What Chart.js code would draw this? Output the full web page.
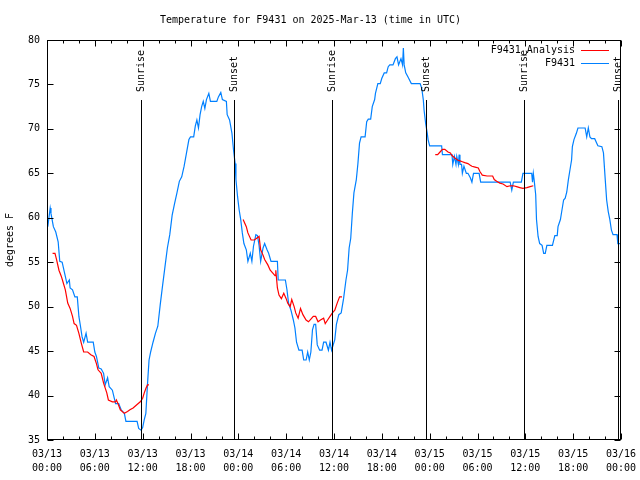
<!DOCTYPE html>
<html>
<head>
<meta charset="utf-8">
<script src="https://cdn.jsdelivr.net/npm/chart.js@4"></script>
<style>body{margin:0;background:#fff}</style>
</head>
<body>
<canvas id="temp" width="640" height="480"></canvas>
<script>
// hours since 03/13 00:00 UTC, station readings in degrees F
const obsHours = [
  0.1,0.4,0.5,0.8,1.1,1.4,1.6,1.9,2.2,2.5,
  2.8,2.9,3.2,3.5,3.8,4.0,4.2,4.4,4.6,4.9,
  5.1,5.8,6.0,6.2,6.5,6.8,7.1,7.3,7.6,7.8,
  8.2,8.6,9.0,9.3,9.7,9.9,11.3,11.5,11.8,12.0,
  12.2,12.4,12.6,12.8,13.0,13.3,13.6,13.9,14.2,14.5,
  14.8,15.1,15.4,15.7,16.0,16.3,16.6,16.9,17.2,17.5,
  17.8,18.0,18.4,18.6,18.8,19.0,19.2,19.4,19.6,19.8,
  20.0,20.3,20.5,21.3,21.5,21.8,22.0,22.5,22.6,22.9,
  23.2,23.4,23.6,23.7,23.9,24.1,24.3,24.5,24.7,25.0,
  25.2,25.5,25.7,25.9,26.2,26.4,26.6,26.8,27.1,27.3,
  27.6,27.8,28.1,28.9,29.0,29.9,30.1,30.3,30.6,30.9,
  31.1,31.3,31.6,32.0,32.2,32.5,32.7,32.9,33.1,33.3,
  33.5,33.7,33.9,34.2,34.5,34.7,35.0,35.3,35.5,35.7,
  35.9,36.1,36.3,36.6,36.9,37.2,37.5,37.7,37.9,38.1,
  38.3,38.5,38.8,39.0,39.2,39.4,39.9,40.1,40.3,40.6,
  40.8,41.1,41.2,41.5,41.8,42.0,42.3,42.6,42.8,43.0,
  43.4,43.7,43.9,44.1,44.4,44.6,44.7,44.8,45.0,45.3,
  45.7,46.8,47.0,47.2,47.3,47.5,47.7,47.8,48.0,49.5,
  49.6,50.8,50.9,51.1,51.3,51.4,51.6,51.7,51.8,52.0,
  52.1,52.3,52.6,52.8,53.1,53.3,53.5,54.2,54.4,58.1,
  58.3,58.5,59.5,59.7,60.8,60.9,61.0,61.1,61.3,61.4,
  61.6,61.8,62.1,62.3,62.5,62.7,63.4,63.7,64.0,64.1,
  64.4,64.6,64.8,65.0,65.2,65.4,65.6,65.8,65.9,66.1,
  66.4,66.6,67.5,67.7,67.9,68.1,68.3,68.7,69.1,69.6,
  69.8,70.0,70.2,70.4,70.6,70.8,71.0,71.5,71.6,72.0
];
const obsTemps = [
  59.0,61.1,60.5,59.0,58.4,57.3,55.1,55.0,53.8,52.6,
  53.0,52.1,51.9,51.1,51.1,48.9,47.8,46.6,46.0,47.0,
  46.0,46.0,44.9,44.4,43.1,43.0,42.5,41.2,42.0,41.0,
  40.6,39.1,39.1,38.4,38.0,37.1,37.1,36.3,36.1,36.4,
  37.3,38.0,41.2,44.0,44.9,46.0,47.0,47.8,50.2,52.4,
  54.5,56.6,58.1,60.3,61.6,62.8,64.1,64.6,65.8,67.3,
  68.8,69.1,69.1,70.3,71.0,70.1,71.6,72.5,73.1,72.3,
  73.3,74.0,73.1,73.1,73.6,74.1,73.3,73.1,71.6,71.0,
  69.5,67.6,66.1,64.3,62.4,60.9,59.8,58.3,57.1,56.4,
  55.1,56.0,55.1,56.8,58.1,58.0,56.9,55.1,56.6,57.1,
  56.4,56.0,55.1,55.1,53.0,53.0,51.9,50.4,49.6,48.5,
  47.6,46.0,45.1,45.1,44.0,44.0,44.9,44.0,44.9,47.4,
  48.0,48.0,45.7,45.1,45.1,46.0,46.0,45.1,46.0,45.1,
  45.7,46.3,48.0,49.1,49.3,50.9,53.0,54.1,56.6,57.7,
  60.5,62.8,64.3,66.1,68.4,69.1,69.1,70.8,71.1,71.1,
  72.5,73.3,74.0,75.1,75.1,75.7,76.3,76.3,77.0,77.2,
  77.2,77.9,78.1,77.2,77.9,77.2,79.1,77.2,76.3,75.8,
  75.1,75.1,74.6,73.3,72.1,70.6,69.5,68.8,68.1,68.1,
  67.1,67.1,66.0,66.9,66.0,66.9,66.0,67.1,66.0,66.0,
  65.0,65.8,65.0,65.0,64.5,64.0,65.0,65.0,64.0,64.0,
  63.1,64.0,64.0,65.0,65.0,64.0,65.0,64.3,62.6,59.8,
  57.9,57.1,56.9,56.0,56.0,56.9,56.9,58.0,58.0,59.0,
  59.8,60.9,62.0,62.2,62.9,64.3,65.4,66.5,68.0,68.8,
  69.5,70.1,70.1,69.1,70.1,69.1,68.9,68.9,68.1,68.0,
  67.3,64.6,62.0,60.7,59.8,58.6,58.1,58.1,57.1,57.1
];

// analysis values, null = no analysis
const anaHours = [
  0.7,1.0,1.2,1.5,1.8,2.0,2.3,2.6,2.9,3.2,
  3.4,3.7,4.0,4.3,4.6,5.1,5.5,5.9,6.2,6.4,
  6.8,7.1,7.5,7.7,8.2,8.6,8.7,8.9,9.2,9.7,
  10.1,10.4,10.8,11.3,11.7,12.0,12.2,12.4,12.6,12.8,
  18,
  24.6,25.0,25.2,25.6,26.0,26.3,26.6,26.8,27.1,27.3,
  27.7,28.0,28.3,28.6,28.7,28.9,29.1,29.4,29.7,30.0,
  30.2,30.5,30.7,31.0,31.2,31.5,31.8,32.1,32.5,32.8,
  33.1,33.4,33.7,34.0,34.3,34.7,34.9,35.2,35.5,35.8,
  36.1,36.4,36.7,37.0,
  42,
  48.7,49.0,49.3,49.6,49.9,50.3,50.6,50.8,51.2,51.5,
  51.8,52.1,52.4,52.8,53.1,53.3,53.7,54.1,54.3,54.6,
  55.2,55.9,56.1,56.4,56.8,57.2,57.7,58.1,58.5,58.9,
  59.3,59.7,60.2,60.6,61.0
];
const anaTemps = [
  56.0,56.0,55.3,54.1,53.4,52.8,51.9,50.4,49.8,48.9,
  48.1,47.9,47.0,45.9,44.9,44.9,44.6,44.4,43.6,42.9,
  42.5,41.4,40.3,39.5,39.3,39.3,39.5,39.1,38.4,38.0,
  38.2,38.4,38.6,39.0,39.3,39.7,40.3,40.8,41.2,41.2,
  null,
  59.8,59.0,58.3,57.5,57.5,57.7,57.9,56.4,55.8,55.3,
  54.7,54.1,53.8,53.5,54.1,52.1,51.3,50.9,51.5,50.9,
  50.4,50.0,50.8,50.0,49.3,48.7,49.8,49.1,48.5,48.3,
  48.6,48.9,48.9,48.3,48.5,48.7,48.1,48.5,48.9,49.3,
  49.6,50.4,51.1,51.1,
  null,
  67.1,67.1,67.4,67.7,67.7,67.4,67.3,67.0,66.7,66.5,
  66.4,66.3,66.2,66.1,65.9,65.8,65.7,65.6,65.2,64.8,
  64.7,64.7,64.3,64.1,63.9,63.8,63.5,63.6,63.6,63.5,
  63.4,63.3,63.4,63.5,63.6
];

const sunLabels = ["Sunrise", "Sunset", "Sunrise", "Sunset", "Sunrise", "Sunset"];
const sunHours = [11.75, 23.5, 35.8, 47.55, 59.8, 71.6];

const tickDates = ["03/13","03/13","03/13","03/13","03/14","03/14","03/14","03/14","03/15","03/15","03/15","03/15","03/16"];
const tickTimes = ["00:00","06:00","12:00","18:00","00:00","06:00","12:00","18:00","00:00","06:00","12:00","18:00","00:00"];

const MONO = "'DejaVu Sans Mono', 'Liberation Mono', monospace";
const font = { family: MONO, size: 10, weight: "normal" };
const RED = "rgb(255, 0, 0)";
const BLUE = "rgb(0, 128, 255)";

function toPoints(xs, ys) {
    return xs.map((x, i) => ({ x: x, y: ys[i] }));
}

// frame with inward ticks like gnuplot
const framePlugin = {
    id: "frame",
    afterDatasetsDraw(chart) {
        const ctx = chart.ctx;
        const a = chart.chartArea;
        const xs = chart.scales.x;
        const ys = chart.scales.y;
        const L = Math.round(a.left) + 0.5, R = Math.round(a.right) - 0.5;
        const T = Math.round(a.top) + 0.5, B = Math.round(a.bottom) - 0.5;
        ctx.save();
        ctx.strokeStyle = "#000";
        ctx.lineWidth = 1;
        ctx.beginPath();
        for (let h = 0; h <= 72; h += 2) {
            const px = Math.round(xs.getPixelForValue(h)) + 0.5;
            const len = h % 6 === 0 ? 6 : 3;
            ctx.moveTo(px, B); ctx.lineTo(px, B - len);
            ctx.moveTo(px, T); ctx.lineTo(px, T + len);
        }
        for (let t = 35; t <= 80; t += 5) {
            const py = Math.round(ys.getPixelForValue(t)) + 0.5;
            ctx.moveTo(L, py); ctx.lineTo(L + 6, py);
            ctx.moveTo(R, py); ctx.lineTo(R - 6, py);
        }
        ctx.stroke();

        // sunrise / sunset markers
        ctx.fillStyle = "#000";
        ctx.font = "10px " + MONO;
        sunHours.forEach((h, i) => {
            const px = Math.round(xs.getPixelForValue(h)) + 0.5;
            ctx.beginPath();
            ctx.moveTo(px, a.top + 60);
            ctx.lineTo(px, a.bottom);
            ctx.stroke();
            ctx.save();
            ctx.translate(px, a.top + 52);
            ctx.rotate(-Math.PI / 2);
            ctx.textAlign = "left";
            ctx.textBaseline = "middle";
            ctx.fillText(sunLabels[i], 0, 0);
            ctx.restore();
        });

        ctx.strokeRect(L, T, R - L, B - T);

        // key, top right
        chart.data.datasets.forEach((ds, i) => {
            const y = a.top + 10 + i * 13;
            ctx.textAlign = "right";
            ctx.textBaseline = "middle";
            ctx.fillText(ds.label, a.right - 46, y);
            ctx.strokeStyle = ds.borderColor;
            ctx.beginPath();
            ctx.moveTo(a.right - 40, Math.round(y) + 0.5);
            ctx.lineTo(a.right - 12, Math.round(y) + 0.5);
            ctx.stroke();
        });
        ctx.restore();
    }
};

const tempChart = new Chart(document.getElementById("temp"), {
    type: "line",
    data: {
        datasets: [
            {
                label: "F9431_Analysis",
                data: toPoints(anaHours, anaTemps),
                borderColor: RED,
                borderWidth: 1.2,
                pointRadius: 0,
                spanGaps: false,
            },
            {
                label: "F9431",
                data: toPoints(obsHours, obsTemps),
                borderColor: BLUE,
                borderWidth: 1.2,
                pointRadius: 0,
            },
        ],
    },
    options: {
        responsive: false,
        animation: false,
        layout: { padding: { right: 19 } },
        plugins: {
            legend: { display: false },
            tooltip: { enabled: false },
            title: {
                display: true,
                text: "Temperature for F9431 on 2025-Mar-13 (time in UTC)",
                color: "#000",
                font: font,
                padding: { top: 14, bottom: 14 },
            },
        },
        scales: {
            x: {
                type: "linear",
                min: 0,
                max: 72,
                grid: { display: false, drawTicks: false },
                border: { display: false },
                afterFit(scale) {
                    scale.height = 40;
                    scale.paddingLeft = 0;
                    scale.paddingRight = 0;
                },
                ticks: {
                    stepSize: 6,
                    autoSkip: false,
                    maxRotation: 0,
                    padding: 7,
                    color: "#000",
                    font: { family: MONO, size: 10, lineHeight: 1.4 },
                    callback: (v) => (v % 6 === 0 ? [tickDates[v / 6], tickTimes[v / 6]] : ""),
                },
            },
            y: {
                min: 35,
                max: 80,
                grid: { display: false, drawTicks: false },
                border: { display: false },
                afterFit(scale) {
                    scale.width = 47;
                    scale.paddingTop = 0;
                    scale.paddingBottom = 0;
                },
                title: {
                    display: true,
                    text: "degrees F",
                    color: "#000",
                    font: font,
                    padding: { top: 4, bottom: 0 },
                },
                ticks: {
                    stepSize: 5,
                    padding: 7,
                    color: "#000",
                    font: font,
                },
            },
        },
    },
    plugins: [framePlugin],
});
</script>
</body>
</html>
